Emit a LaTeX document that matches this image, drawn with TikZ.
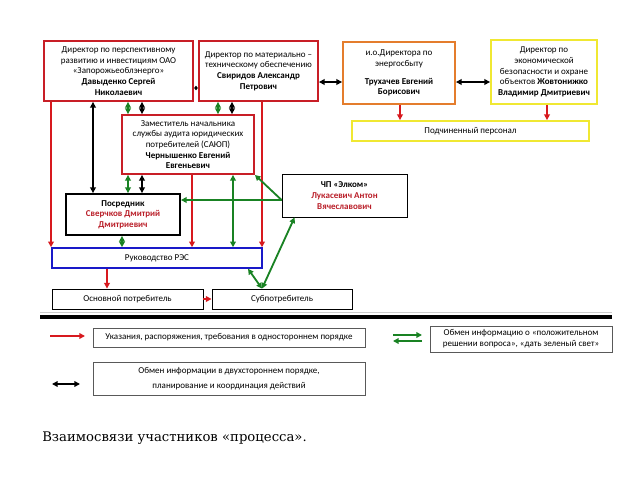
\documentclass[tikz,border=0pt]{standalone}
\usepackage{fontspec}
\setmainfont{Carlito}
\newfontfamily\capfont{DejaVu Serif}
\usetikzlibrary{arrows.meta}

\definecolor{boxred}{RGB}{200,30,38}
\definecolor{arrred}{RGB}{215,25,30}
\definecolor{boxorange}{RGB}{228,125,45}
\definecolor{boxyellow}{RGB}{240,232,50}
\definecolor{boxblue}{RGB}{25,25,200}
\definecolor{arrgreen}{RGB}{25,130,35}
\definecolor{namered}{RGB}{185,30,40}

\begin{document}
\begin{tikzpicture}[x=0.025cm,y=-0.025cm,
  every node/.style={font=\fontsize{6.4}{7.6}\selectfont,align=center,inner sep=1pt},
  box/.style={draw,rectangle},
  redbox/.style={box,draw=boxred,line width=1.3pt},
  redarr/.style={draw=arrred,line width=1.1pt,-{Triangle[length=4pt,width=4pt]}},
  blackarr/.style={draw=black,line width=1.3pt,{Triangle[length=4pt,width=4pt]}-{Triangle[length=4pt,width=4pt]}},
  shortarr/.style={draw=black,line width=0.9pt,{Triangle[length=2pt,width=3pt]}-{Triangle[length=2pt,width=3pt]}},
  greenarr/.style={draw=arrgreen,line width=1.3pt,-{Triangle[length=4pt,width=4pt]}},
  greenboth/.style={greenarr,{Triangle[length=4pt,width=4pt]}-{Triangle[length=4pt,width=4pt]}}]
\useasboundingbox (0,0) rectangle (640,480);

% top row
\node[redbox,minimum width=3.725cm,minimum height=1.5cm] (dav) at (118.5,71)
  {Директор по перспективному\\ развитию и инвестициям ОАО\\ «Запорожьеоблэнерго»\\ \textbf{Давыденко Сергей}\\ \textbf{Николаевич}};
\node[redbox,minimum width=2.975cm,minimum height=1.5cm] (svi) at (258.5,71)
  {Директор по материально –\\ техническому обеспечению\\ \textbf{Свиридов Александр}\\ \textbf{Петрович}};
\node[box,draw=boxorange,line width=1.3pt,minimum width=2.8cm,minimum height=1.55cm] (tru) at (399,73)
  {и.о.Директора по\\ энергосбыту\\[5pt] \textbf{Трухачев Евгений}\\ \textbf{Борисович}};
\node[box,draw=boxyellow,line width=1.3pt,minimum width=2.65cm,minimum height=1.6cm] (zho) at (544,72)
  {Директор по\\ экономической\\ безопасности и охране\\ объектов \textbf{Жовтонижко}\\ \textbf{Владимир Дмитриевич}};
\node[box,draw=boxyellow,line width=1.3pt,minimum width=5.925cm,minimum height=0.5cm] (pers) at (470.5,131)
  {Подчиненный персонал};

% middle
\node[redbox,minimum width=3.3cm,minimum height=1.475cm] (che) at (188,144.5)
  {Заместитель начальника\\ службы аудита юридических\\ потребителей (САЮП)\\ \textbf{Чернышенко Евгений}\\ \textbf{Евгеньевич}};
\node[box,line width=0.6pt,minimum width=3.125cm,minimum height=1.075cm] (elk) at (344.5,195.5)
  {\textbf{ЧП «Элком»}\\ \textcolor{namered}{\textbf{Лукасевич Антон}}\\ \textcolor{namered}{\textbf{Вячеславович}}};
\node[box,line width=1.3pt,minimum width=2.85cm,minimum height=1.025cm] (pos) at (123,214.5)
  {\textbf{Посредник}\\ \textcolor{namered}{\textbf{Сверчков Дмитрий}}\\ \textcolor{namered}{\textbf{Дмитриевич}}};

% bottom
\node[box,draw=boxblue,line width=1.1pt,minimum width=5.25cm,minimum height=0.5cm] (res) at (157,258) {Руководство РЭС};
\node[box,line width=0.6pt,minimum width=3.775cm,minimum height=0.5cm] (osn) at (127.5,299) {Основной потребитель};
\node[box,line width=0.6pt,minimum width=3.5cm,minimum height=0.5cm] (sub) at (282,299) {Субпотребитель};

% connectors
\draw[shortarr] (dav.east |- 0,88) -- (svi.west |- 0,88);
\draw[blackarr] (svi.east |- 0,82) -- (tru.west |- 0,82);
\draw[blackarr] (tru.east |- 0,82) -- (zho.west |- 0,82);
\draw[redarr] (tru.south -| 400,0) -- (pers.north -| 400,0);
\draw[redarr] (zho.south -| 547,0) -- (pers.north -| 547,0);

\draw[redarr] (dav.south -| 51,0) -- (res.north -| 51,0);
\draw[blackarr] (dav.south -| 93,0) -- (pos.north -| 93,0);
\draw[greenboth] (dav.south -| 128,0) -- (che.north -| 128,0);
\draw[blackarr] (dav.south -| 142,0) -- (che.north -| 142,0);
\draw[greenboth] (svi.south -| 218,0) -- (che.north -| 218,0);
\draw[blackarr] (svi.south -| 232,0) -- (che.north -| 232,0);
\draw[redarr] (svi.south -| 262,0) -- (res.north -| 262,0);

\draw[greenboth] (che.south -| 128,0) -- (pos.north -| 128,0);
\draw[blackarr] (che.south -| 142,0) -- (pos.north -| 142,0);
\draw[redarr] (che.south -| 192,0) -- (res.north -| 192,0);
\draw[greenboth] (che.south -| 233,0) -- (res.north -| 233,0);
\draw[greenboth] (pos.south -| 122,0) -- (res.north -| 122,0);

\draw[greenarr] (elk.west |- 0,200) -- (pos.east |- 0,200);
\draw[greenarr] (elk.west |- 0,200) -- (che.south east);
\draw[greenboth] (elk.south west) ++(13,0) coordinate (elkfoot) -- (sub.north -| 262,0);
\draw[greenboth] (res.south -| 248,0) -- (sub.north -| 262,0);

\draw[redarr] (res.south -| 107,0) -- (osn.north -| 107,0);
\draw[redarr] (osn.east) -- (sub.west);

% separator
\draw[gray!40,line width=0.4pt] (40,312) -- (612,312);
\draw[line width=2.2pt] (40,317) -- (612,317);

% legend
\node[box,draw=gray!70!black,line width=0.6pt,minimum width=6.8cm,minimum height=0.475cm] (leg1) at (229,337.5)
  {Указания, распоряжения, требования в одностороннем порядке};
\node[box,draw=gray!70!black,line width=0.6pt,minimum width=6.8cm,minimum height=0.825cm] (leg2) at (229,378.5)
  {Обмен информации в двухстороннем порядке,\\[3pt] планирование и координация действий};
\node[box,draw=gray!70!black,line width=0.6pt,minimum width=4.55cm,minimum height=0.65cm] (leg3) at (521,339)
  {Обмен информацию о «положительном\\ решении вопроса», «дать зеленый свет»};
\coordinate (r1) at (50,336);
\coordinate (r2) at (85,336);
\draw[redarr] (r1) -- (r2);
\coordinate (b1) at (52,384);
\coordinate (b2) at (80,384);
\draw[blackarr] (b1) -- (b2);
\coordinate (g1) at (393,335);
\coordinate (g2) at (422,335);
\coordinate (g3) at (393,341);
\coordinate (g4) at (422,341);
\draw[greenarr] (g1) -- (g2);
\draw[greenarr] (g4) -- (g3);

\node[anchor=base west,font=\capfont\fontsize{9.4}{11}\selectfont,inner sep=0pt] (cap) at (42,441)
  {Взаимосвязи участников «процесса».};
\end{tikzpicture}
\end{document}
